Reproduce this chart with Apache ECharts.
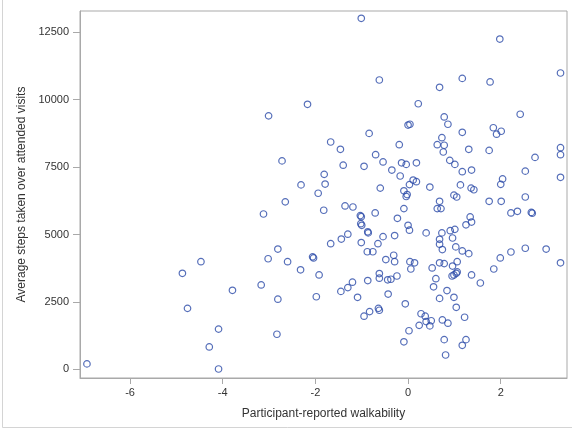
<!DOCTYPE html>
<html>
<head>
<meta charset="utf-8">
<script src="https://cdn.jsdelivr.net/npm/echarts@6/dist/echarts.min.js"></script>
<style>
  html, body { margin: 0; padding: 0; background: #fff; }
  #chart { width: 572px; height: 431px; }
</style>
</head>
<body>
<div id="chart"></div>
<script>
// Participant-reported walkability (x) vs. average steps over attended visits (y)
const walkability = [
  -1.01, -0.62, -2.17, -3.01, 0.00, 0.04, -0.84, -1.67, -1.46, -0.19,
  -0.70, -2.72, -0.54, -1.40, -0.95, -0.14, -0.04, -0.35, -1.81, -0.17,
  -2.31, -1.79, -1.94, -0.60, -0.09, -0.02, -0.04, 0.03, -2.65, 1.98,
  3.29, 1.17, 1.77, 0.68, 0.22, 2.42, 0.78, 0.86, 1.84, 2.01,
  1.91, 1.17, 0.73, 0.63, 0.78, 0.76, 1.31, 1.75, 3.29, 3.29,
  2.74, 0.90, 1.01, 0.18, 1.17, 1.37, 2.53, 0.11, 0.18, 0.47,
  1.13, 1.36, 1.42, 2.04, 2.00, 3.29, 0.99, 1.05, 2.53, 0.68,
  1.75, 2.01, -0.09, 0.63, 0.71, 2.22, 2.36, 2.66, 2.68, 1.34,
  1.37, 1.25, 0.00, 0.03, 0.39, 0.73, 0.91, 1.01, 0.68, 0.96,
  0.68, 0.74, 1.03, 1.17, 1.31, 2.53, 2.98, 2.22, 1.99, 3.29,
  0.04, 0.14, 0.06, 0.68, 0.78, 1.06, 0.96, 0.52, 1.85, 1.06,
  1.04, 0.99, 0.95, 1.37, 0.60, 1.56, 0.55, 0.84, 0.68, 0.99,
  1.04, -0.06, 0.28, 0.37, 0.39, 0.50, 0.24, 0.47, 0.74, 0.86,
  1.22, 0.02, -0.09, 0.78, 1.25, 1.17, 0.81, -3.12, -1.82, -1.36,
  -1.19, -0.71, -1.03, -1.01, -1.02, -1.00, -0.87, -0.86, -0.23, -1.30,
  -1.44, -1.67, -1.01, -0.54, -0.29, -0.65, -2.81, -3.02, -2.60, -2.06,
  -2.04, -0.88, -0.76, -0.31, -0.48, -0.29, -2.32, -1.92, -0.62, -0.62,
  -0.44, -0.37, -0.24, -0.87, -3.17, -1.20, -1.30, -1.45, -0.43, -2.81,
  -1.98, -1.09, -0.64, -0.62, -0.83, -0.95, -2.83, -4.47, -4.87, -3.79,
  -4.76, -4.09, -4.29, -6.93, -4.09
];
const avgSteps = [
  13020, 10730, 9830, 9400, 9060, 9090, 8750, 8430, 8160, 8330,
  7960, 7730, 7690, 7570, 7530, 7660, 7600, 7390, 7230, 7170,
  6840, 6870, 6530, 6720, 6620, 6480, 6410, 6850, 6210, 12250,
  10990, 10790, 10660, 10460, 9850, 9460, 9360, 9090, 8960, 8830,
  8720, 8790, 8590, 8330, 8310, 8060, 8160, 8120, 8220, 7960,
  7860, 7750, 7600, 7660, 7330, 7390, 7350, 7020, 6960, 6760,
  6840, 6720, 6660, 7060, 6860, 7120, 6460, 6390, 6390, 6230,
  6230, 6230, 5960, 5960, 5960, 5800, 5860, 5820, 5790, 5650,
  5460, 5360, 5340, 5160, 5060, 5060, 5140, 5190, 4820, 4870,
  4640, 4440, 4540, 4390, 4290, 4490, 4460, 4350, 4130, 3950,
  3990, 3950, 3720, 3950, 3920, 3990, 3830, 3760, 3720, 3610,
  3560, 3500, 3460, 3500, 3360, 3200, 3060, 2920, 2630, 2670,
  2300, 2430, 2060, 1970, 1770, 1800, 1630, 1610, 1830, 1710,
  1930, 1430, 1020, 1100, 1100, 890, 530, 5760, 5900, 6060,
  6020, 5800, 5700, 5660, 5400, 5340, 5100, 5060, 5600, 5010,
  4830, 4660, 4700, 4920, 4960, 4660, 4460, 4100, 3990, 4170,
  4130, 4360, 4360, 4230, 4070, 3990, 3690, 3500, 3550, 3380,
  3320, 3340, 3460, 3290, 3130, 3230, 3030, 2890, 2790, 2600,
  2690, 2670, 2260, 2190, 2140, 1970, 1300, 3990, 3560, 2930,
  2260, 1490, 830, 200, 10
];
const xTicks = [-6, -4, -2, 0, 2];
const yTicks = [0, 2500, 5000, 7500, 10000, 12500];

const points = walkability.map((x, i) => [x, avgSteps[i]]);

const frameColor = '#a9a9a9';
const textColor = '#333333';
const fontFamily = '"Liberation Sans", Arial, sans-serif';

const chart = echarts.init(document.getElementById('chart'), null, { renderer: 'canvas' });
chart.setOption({
  animation: false,
  backgroundColor: '#ffffff',
  grid: {
    left: 80, top: 11, right: 5, bottom: 53,
    show: true, borderColor: frameColor, borderWidth: 1,
    containLabel: false
  },
  xAxis: {
    type: 'value',
    min: -7.08, max: 3.43,
    name: 'Participant-reported walkability',
    nameLocation: 'middle',
    nameGap: 30,
    nameTextStyle: { color: textColor, fontSize: 12, fontFamily },
    axisLine: { show: true, onZero: false, lineStyle: { color: frameColor } },
    axisTick: { show: true, length: 6, lineStyle: { color: frameColor }, customValues: xTicks },
    axisLabel: { color: textColor, fontSize: 11, fontFamily, margin: 9, customValues: xTicks,
      formatter: v => String(v) },
    splitLine: { show: false }
  },
  yAxis: {
    type: 'value',
    min: -323, max: 13290,
    name: 'Average steps taken over attended visits',
    nameLocation: 'middle',
    nameGap: 52,
    nameTextStyle: { color: textColor, fontSize: 12, fontFamily },
    axisLine: { show: true, onZero: false, lineStyle: { color: frameColor } },
    axisTick: { show: true, length: 7, lineStyle: { color: frameColor }, customValues: yTicks },
    axisLabel: { color: textColor, fontSize: 11, fontFamily, margin: 11, customValues: yTicks,
      formatter: v => String(v) },
    splitLine: { show: false }
  },
  graphic: [
    { type: 'line', shape: { x1: 2.5, y1: 0, x2: 2.5, y2: 427.5 }, style: { stroke: '#d4d4d4', lineWidth: 1 } },
    { type: 'line', shape: { x1: 2.5, y1: 427.5, x2: 572, y2: 427.5 }, style: { stroke: '#d4d4d4', lineWidth: 1 } }
  ],
  series: [{
    type: 'scatter',
    data: points,
    symbol: 'circle',
    symbolSize: 6.5,
    itemStyle: { color: 'rgba(0,0,0,0)', borderColor: '#2a4aa8', borderWidth: 1.2 },
    emphasis: { disabled: true }
  }]
});
</script>
</body>
</html>
